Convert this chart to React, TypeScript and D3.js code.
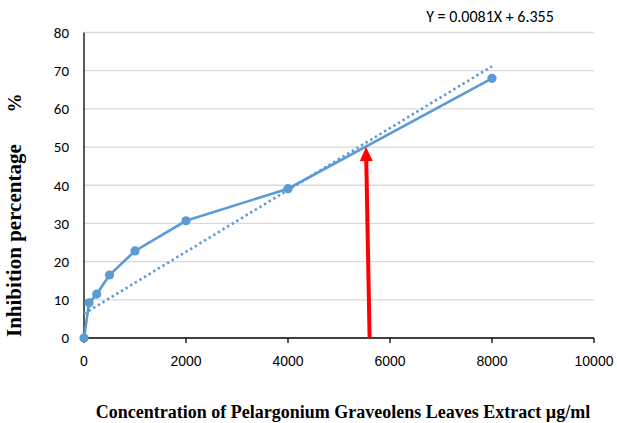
import * as d3 from "d3";

// measured points (concentration µg/ml, inhibition %)
const concentrations = [0, 100, 250, 500, 1000, 2000, 4000, 8000];
const inhibition = [0, 9.2, 11.5, 16.5, 22.8, 30.7, 39.1, 68];

const yTicks = [0, 10, 20, 30, 40, 50, 60, 70, 80];
const xTicks = [0, 2000, 4000, 6000, 8000, 10000];

// linear trend: Y = 0.0081X + 6.355
const slope = 0.0081;
const intercept = 6.355;
const trendX = [0, 8000];

// red arrow: base on the axis, tip at IC50
const arrowFrom = { x: 5600, y: 0 };
const arrowTo = { x: 5530, y: 50 };

const width = 617;
const height = 423;

const App = () => {
  const x = d3.scaleLinear().domain([0, 10000]).range([84, 594]);
  const y = d3.scaleLinear().domain([0, 80]).range([338, 32.5]);

  const points = concentrations.map((c, i) => ({ c, v: inhibition[i] }));
  const line = d3
    .line<{ c: number; v: number }>()
    .x((d) => x(d.c))
    .y((d) => y(d.v));

  const trend = trendX.map((c) => ({ c, v: slope * c + intercept }));

  const blue = "#5B9BD5";
  const calibri = "Carlito, 'Open Sans', 'Noto Sans', sans-serif";
  const serif = "'Liberation Serif', 'Times New Roman', serif";

  // arrow head geometry
  const ax0 = x(arrowFrom.x);
  const ay0 = y(arrowFrom.y);
  const ax1 = x(arrowTo.x);
  const ay1 = y(arrowTo.y);
  const ang = Math.atan2(ay1 - ay0, ax1 - ax0);
  const headLen = 14;
  const headW = 6.5;
  const bx = ax1 - headLen * Math.cos(ang);
  const by = ay1 - headLen * Math.sin(ang);
  const px = -Math.sin(ang) * headW;
  const py = Math.cos(ang) * headW;

  return (
    <svg
      width={width}
      height={height}
      style={{ position: "absolute", left: 0, top: 0, background: "#fff" }}
    >
      {/* grid lines */}
      {yTicks
        .filter((t) => t > 0)
        .map((t) => (
          <line
            key={t}
            x1={x(0)}
            x2={x(10000)}
            y1={y(t)}
            y2={y(t)}
            stroke="#d9d9d9"
            strokeWidth={1.3}
          />
        ))}

      {/* y tick labels */}
      {yTicks.map((t) => (
        <text
          key={t}
          x={69}
          y={y(t)}
          dy="0.36em"
          textAnchor="end"
          fontFamily={calibri}
          fontSize={15}
          fill="#000"
        >
          {t}
        </text>
      ))}

      {/* axes */}
      <line x1={x(0)} x2={x(0)} y1={y(0)} y2={y(80)} stroke="#000" strokeWidth={1.3} />
      <line x1={x(0)} x2={x(10000)} y1={y(0)} y2={y(0)} stroke="#000" strokeWidth={1.3} />
      {xTicks.map((t) => (
        <g key={t}>
          <line x1={x(t)} x2={x(t)} y1={y(0)} y2={y(0) + 5} stroke="#000" strokeWidth={1.3} />
          <text
            x={x(t)}
            y={366}
            textAnchor="middle"
            fontFamily="'Liberation Sans', Arial, sans-serif"
            fontSize={14}
            fill="#000"
          >
            {t}
          </text>
        </g>
      ))}

      {/* trend line */}
      <path
        d={line(trend) ?? ""}
        fill="none"
        stroke={blue}
        strokeWidth={2.6}
        strokeDasharray="2.4 3"
      />

      {/* data line */}
      <path d={line(points) ?? ""} fill="none" stroke={blue} strokeWidth={2.6} />
      {points.map((d, i) => (
        <circle key={i} cx={x(d.c)} cy={y(d.v)} r={4.6} fill={blue} />
      ))}

      {/* red arrow */}
      <line x1={ax0} y1={ay0} x2={bx} y2={by} stroke="#ff0000" strokeWidth={4} />
      <polygon
        points={`${ax1},${ay1} ${bx + px},${by + py} ${bx - px},${by - py}`}
        fill="#ff0000"
      />

      {/* equation */}
      <text
        x={490}
        y={22}
        textAnchor="middle"
        fontFamily={calibri}
        fontSize={16}
        fill="#000"
      >
        Y = 0.0081X + 6.355
      </text>

      {/* axis titles */}
      <text
        transform="translate(21, 337) rotate(-90)"
        textAnchor="start"
        fontFamily={serif}
        fontWeight="bold"
        fontSize={21}
        fill="#000"
      >
        Inhibition percentage
      </text>
      <text
        transform="translate(21, 103) rotate(-90)"
        textAnchor="middle"
        fontFamily={serif}
        fontWeight="bold"
        fontSize={19}
        fill="#000"
      >
        %
      </text>
      <text
        x={343}
        y={418}
        textAnchor="middle"
        fontFamily={serif}
        fontWeight="bold"
        fontSize={18}
        fill="#000"
      >
        Concentration of Pelargonium Graveolens Leaves Extract µg/ml
      </text>
    </svg>
  );
};

export default App;
